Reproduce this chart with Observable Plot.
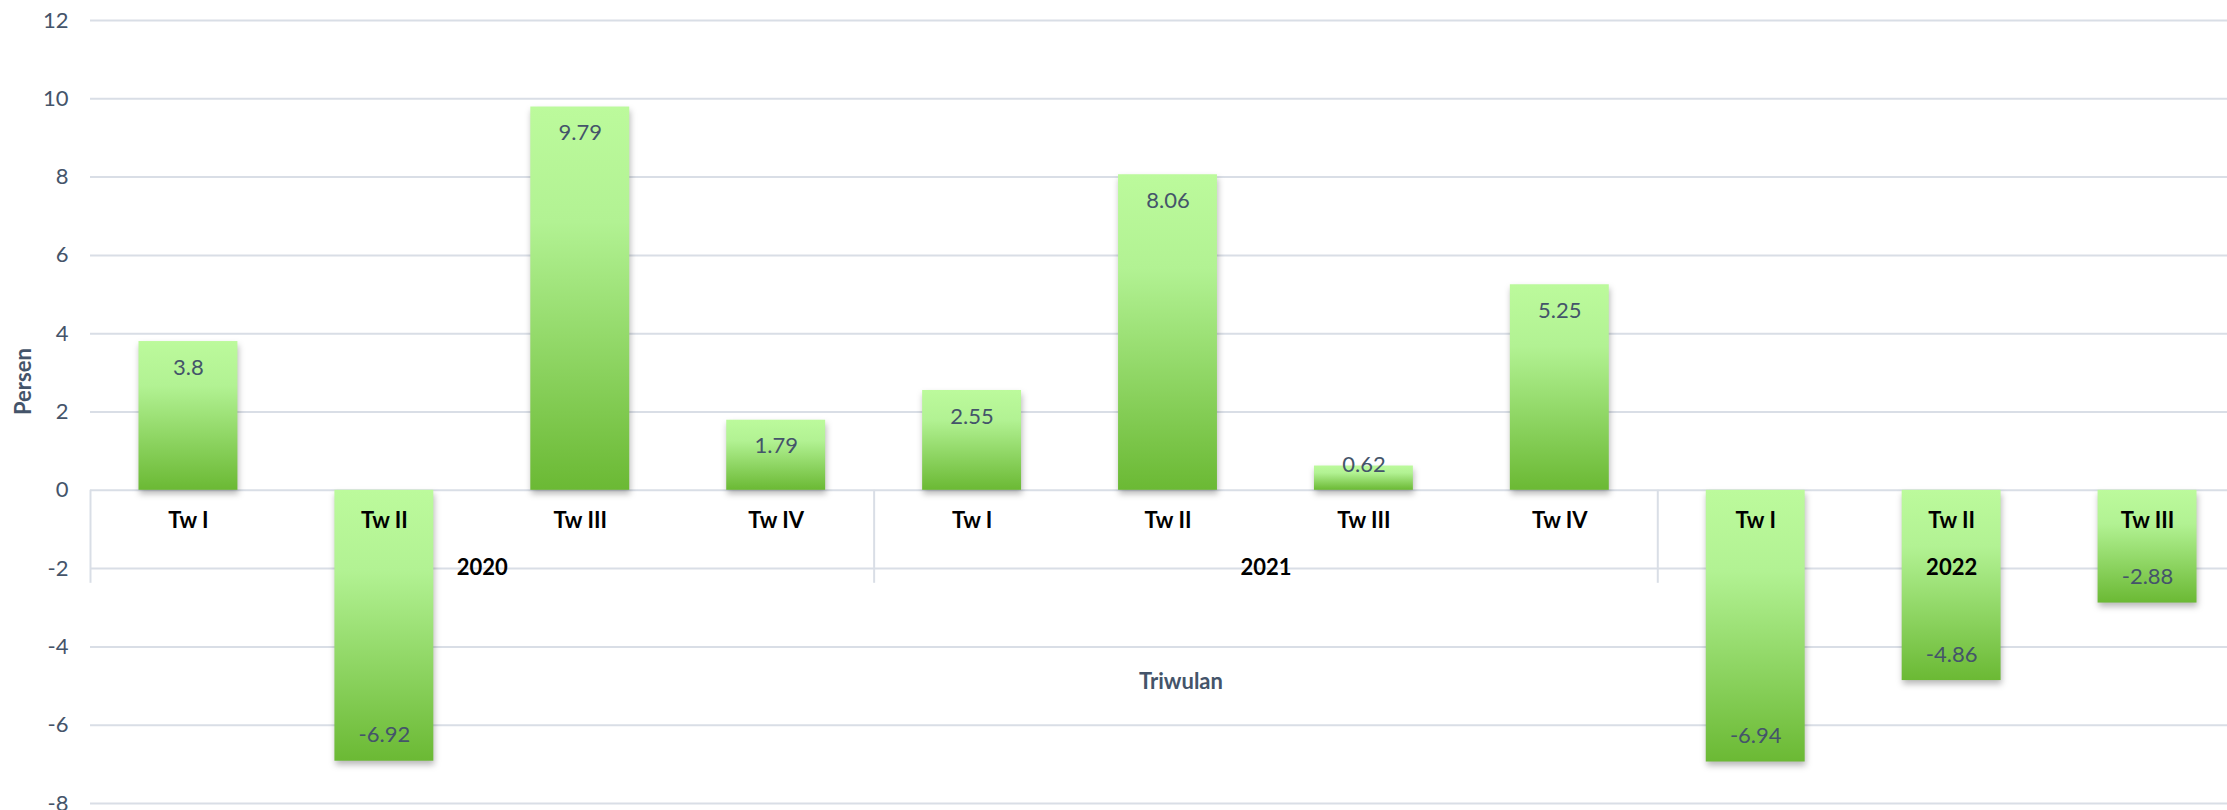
<!DOCTYPE html>
<html>
<head>
<meta charset="utf-8">
<script src="https://cdn.jsdelivr.net/npm/d3@7"></script>
<script src="https://cdn.jsdelivr.net/npm/@observablehq/plot@0.6"></script>
<style>
  html, body { margin: 0; padding: 0; background: #ffffff; overflow: hidden; }
  #chart { width: 2227px; height: 810px; overflow: hidden; }
  #chart svg { max-width: none !important; }
  #chart svg g[aria-label="rect"] rect { filter: drop-shadow(1px 4px 3px rgba(0,0,0,0.28)); }
</style>
</head>
<body>
<div id="chart"></div>
<script>
// ---- data ----
const years    = ["2020", "2020", "2020", "2020", "2021", "2021", "2021", "2021", "2022", "2022", "2022"];
const quarters = ["Tw I", "Tw II", "Tw III", "Tw IV", "Tw I", "Tw II", "Tw III", "Tw IV", "Tw I", "Tw II", "Tw III"];
const values   = [3.8, -6.92, 9.79, 1.79, 2.55, 8.06, 0.62, 5.25, -6.94, -4.86, -2.88];
const yTicks   = [-8, -6, -4, -2, 0, 2, 4, 6, 8, 10, 12];
const yearList = ["2020", "2021", "2022"];
const yLabel   = "Persen";
const xLabel   = "Triwulan";

// ---- derived tables ----
const rows = values.map((v, i) => ({ i, year: years[i], quarter: quarters[i], value: v, label: String(v) }));
const groups = yearList.map(y => {
  const idx = rows.filter(r => r.year === y).map(r => r.i);
  return { year: y, start: d3.min(idx), end: d3.max(idx) + 1 };
});
const separators = groups.map(g => g.start).concat([groups[groups.length - 1].end]);
const xMax = rows.length;

const slate = "#44546A";
const gridColor = "#d9dee6";
const smallLimit = 1.3; // bars shorter than the label box
const bigRows = rows.filter(d => Math.abs(d.value) >= smallLimit);
const smallRows = rows.filter(d => Math.abs(d.value) < smallLimit);

const chart = Plot.plot({
  width: 2245,
  height: 810,
  marginLeft: 90,
  marginRight: 0,
  marginTop: 20,
  marginBottom: 7,
  style: { fontFamily: "Lato, 'Open Sans', sans-serif", fontSize: "22px", background: "#fff" },
  x: { domain: [0, xMax], axis: null },
  y: { domain: [yTicks[0], yTicks[yTicks.length - 1]], axis: null },
  marks: [
    Plot.gridY({ ticks: yTicks, stroke: gridColor, strokeOpacity: 1, strokeWidth: 2 }),
    Plot.axisY({ ticks: yTicks, tickFormat: d => String(d), tickSize: 0, tickPadding: 22, fontSize: 22, fill: slate, label: null }),
    Plot.ruleX(separators, { x: d => d, y1: () => 0, y2: () => 0, insetBottom: -93, stroke: gridColor, strokeWidth: 2 }),
    Plot.rectY(rows, {
      x1: d => d.i, x2: d => d.i + 1, y1: () => 0, y2: "value",
      insetLeft: 48.5, insetRight: 48.5,
      fill: "url(#barGrad)"
    }),
    // value labels: inside end
    Plot.text(bigRows, {
      x: d => d.i + 0.5, y: "value", text: "label",
      fill: slate, fontSize: 22
    }),
    Plot.text(smallRows, {
      x: d => d.i + 0.5, y: () => 0, text: "label",
      dy: -25.5, fill: slate, fontSize: 22
    }),
    // category labels
    Plot.text(rows, { x: d => d.i + 0.5, y: () => 0, text: "quarter", dy: 30.5, fill: "#000", fontWeight: "bold", fontSize: 22 }),
    Plot.text(groups, { x: d => (d.start + d.end) / 2, y: () => 0, text: "year", dy: 78, fill: "#000", fontWeight: "bold", fontSize: 22 }),
    // axis titles
    Plot.text([xLabel], { x: () => xMax / 2, y: () => 0, text: d => d, dy: 192, dx: 13, fill: slate, fontWeight: "bold", fontSize: 22 }),
    Plot.text([yLabel], { frameAnchor: "left", text: d => d, rotate: -90, dx: -67, dy: 3, fill: slate, fontWeight: "bold", fontSize: 22 })
  ]
});

// per-bar vertical gradient
d3.select(chart).insert("defs", ":first-child").html(
  `<linearGradient id="barGrad" x1="0" y1="0" x2="0" y2="1">
     <stop offset="0" stop-color="#bcfa9c"/>
     <stop offset="0.3" stop-color="#b2f293"/>
     <stop offset="1" stop-color="#6bb934"/>
   </linearGradient>`
);

// shift value labels to inside-end (26px from the bar end)
d3.select(chart).selectAll('g[aria-label="text"]').filter((d, i) => i === 0)
  .selectAll("text").each(function (_, k) {
    const v = bigRows[k].value;
    const t = d3.select(this).attr("transform") || "";
    d3.select(this).attr("transform", t + ` translate(0,${v >= 0 ? 26 : -26})`);
  });

document.getElementById("chart").appendChild(chart);
</script>
</body>
</html>
